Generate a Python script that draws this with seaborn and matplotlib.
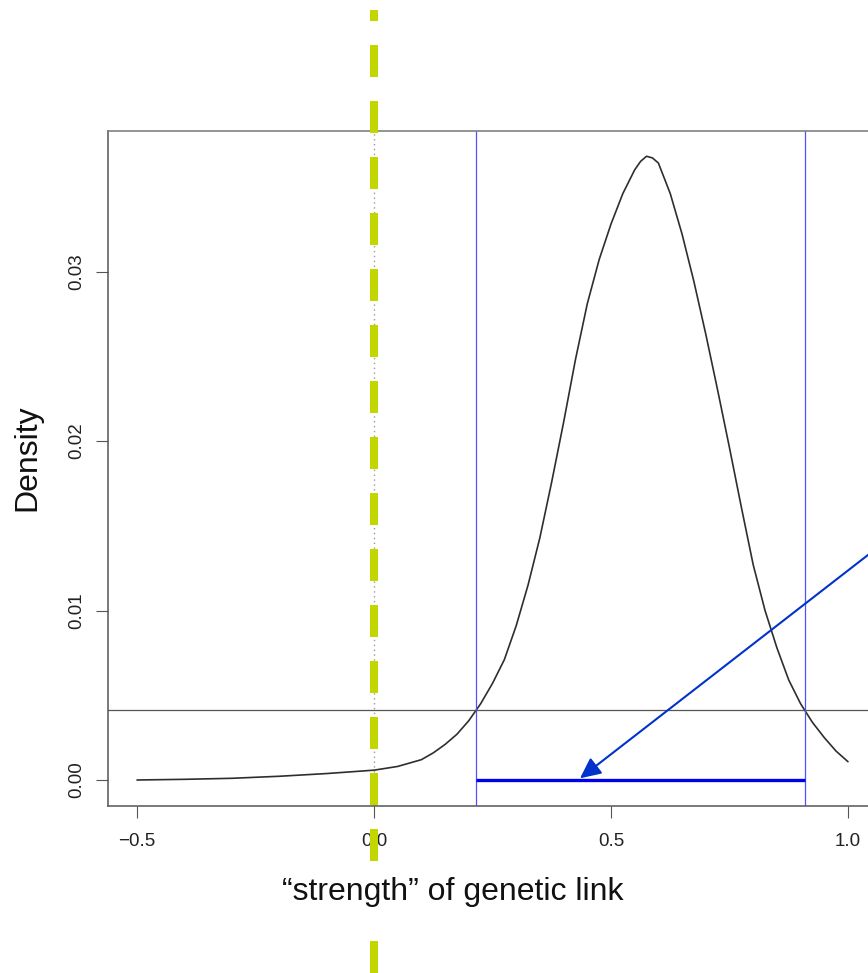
import matplotlib
matplotlib.use("Agg")
import matplotlib.pyplot as plt
import seaborn as sns
from matplotlib.lines import Line2D
from matplotlib.transforms import blended_transform_factory

# ---- data ----
strength = [-0.5, -0.4, -0.3, -0.2, -0.1, 0.0, 0.05, 0.1, 0.125, 0.15, 0.175,
            0.2, 0.225, 0.25, 0.275, 0.3, 0.325, 0.35, 0.375, 0.4, 0.425,
            0.45, 0.475, 0.5, 0.525, 0.55, 0.5625, 0.575, 0.5875, 0.6, 0.625,
            0.65, 0.675, 0.7, 0.725, 0.75, 0.775, 0.8, 0.825, 0.85, 0.875,
            0.9, 0.925, 0.95, 0.975, 1.0]
density = [0.0, 0.00004, 0.0001, 0.00022, 0.00038, 0.00058, 0.0008, 0.0012,
           0.0016, 0.0021, 0.0027, 0.0035, 0.0045, 0.0057, 0.0071, 0.0091,
           0.0115, 0.0143, 0.0176, 0.0211, 0.0248, 0.0281, 0.0307, 0.0328,
           0.0346, 0.0360, 0.0365, 0.0368, 0.0367, 0.0364, 0.0346, 0.0322,
           0.0294, 0.0263, 0.0230, 0.0196, 0.0161, 0.0127, 0.0100, 0.0078,
           0.0059, 0.0045, 0.0034, 0.0025, 0.0017, 0.00108]
ci_low, ci_high = 0.215, 0.909
cutoff = 0.00413
null_value = 0.0
xticks = [-0.5, 0.0, 0.5, 1.0]
xticklabels = ["\u22120.5", "0.0", "0.5", "1.0"]
yticks = [0.0, 0.01, 0.02, 0.03]
yticklabels = ["0.00", "0.01", "0.02", "0.03"]
xlabel = "\u201cstrength\u201d of genetic link"
ylabel = "Density"

sns.set_theme(style="white")
plt.rcParams["font.family"] = ["Liberation Sans", "DejaVu Sans"]

W, H = 868, 973
fig = plt.figure(figsize=(W / 100, H / 100), dpi=100)
fig.patch.set_facecolor("white")
ax = fig.add_axes([108 / W, 1 - 806 / H, 768 / W, (806 - 131) / H])
ax.set_facecolor("white")

sns.lineplot(x=strength, y=density, ax=ax, color="#2e2e2e", lw=1.2)

ax.set_xlim(-0.5612, 1.0591)
ax.set_ylim(-0.001534, 0.03829)

ax.axvline(null_value, color="#9a9a9a", lw=1.0, ls=(0, (1, 2.5)), zorder=1)
ax.axvline(ci_low, color="#5050ff", lw=0.9)
ax.axvline(ci_high, color="#5050ff", lw=0.9)
ax.axhline(cutoff, color="#555555", lw=0.9)
ax.plot([ci_low, ci_high], [0, 0], color="#0000ee", lw=2.4, solid_capstyle="butt")

ax.annotate("", xy=(0.4346, 0.0001), xytext=(1.1, 0.01453),
            arrowprops=dict(arrowstyle="-|>,head_length=1.05,head_width=0.5",
                            color="#0033cc", lw=1.5, shrinkA=0, shrinkB=0,
                            mutation_scale=12),
            annotation_clip=False)

ax.set_xticks(xticks)
ax.set_xticklabels(xticklabels)
ax.set_yticks(yticks)
ax.set_yticklabels(yticklabels)
for lab in ax.get_yticklabels():
    lab.set_rotation(90)
    lab.set_va("center")
    lab.set_ha("right")
ax.tick_params(axis="both", direction="out", length=8.6, width=0.8,
               color="#555555", labelsize=13.5, labelcolor="#222222",
               bottom=True, left=True, top=False, right=False)
ax.tick_params(axis="x", pad=11)
ax.tick_params(axis="y", pad=7.5)
for sp in ax.spines.values():
    sp.set_visible(True)
    sp.set_color("#555555")
    sp.set_linewidth(1.1)
ax.spines["top"].set_color("#777777")
ax.set_xlabel("")
ax.set_ylabel("")

# green dashed vertical line at the null value, spanning the figure
trans = blended_transform_factory(ax.transData, fig.transFigure)
green = Line2D([null_value, null_value], [1 - 10 / H, -0.02], transform=trans,
               color="#c2d600", lw=5.76, ls=(2.625, (4, 3)),
               solid_capstyle="butt", dash_capstyle="butt", zorder=5)
fig.add_artist(green)

fig.text(453 / W, 1 - 900 / H, xlabel, ha="center", va="baseline",
         fontsize=23, color="#111111", zorder=10,
         bbox=dict(facecolor="white", edgecolor="none",
                   boxstyle="square,pad=0.42"))
fig.text(27 / W, 1 - 457.5 / H, ylabel, rotation=90, ha="center",
         va="center", fontsize=23, color="#111111")

fig.savefig("out.png", dpi=100, facecolor="white")
